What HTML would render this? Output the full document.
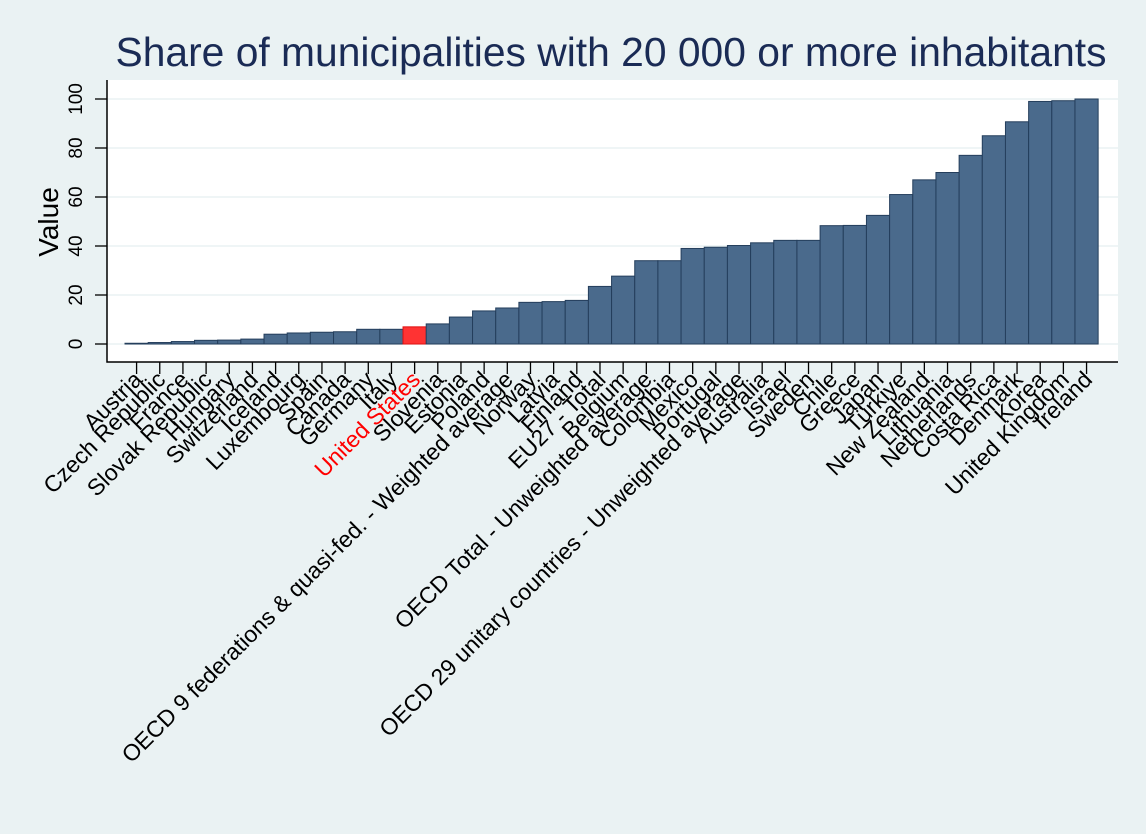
<!DOCTYPE html>
<html><head><meta charset="utf-8"><style>
body{margin:0;background:#eaf2f3;}
svg{display:block;font-family:"Liberation Sans",sans-serif;}
</style></head><body>
<svg id="c" width="1146" height="834">
<rect width="1146" height="834" fill="#eaf2f3"/>
<text x="611" y="66" text-anchor="middle" font-size="40.8" fill="#1a2b55">Share of municipalities with 20 000 or more inhabitants</text>
<rect x="107" y="80" width="1011" height="282" fill="#ffffff"/>
<g id="grid"></g><g id="bars"></g><g id="axes"></g>
</svg>
<script>
const categories=["Austria","Czech Republic","France","Slovak Republic","Hungary","Switzerland","Iceland","Luxembourg","Spain","Canada","Germany","Italy","United States","Slovenia","Estonia","Poland","OECD 9 federations & quasi-fed. - Weighted average","Norway","Latvia","Finland","EU27 - Total","Belgium","OECD Total - Unweighted average","Colombia","Mexico","Portugal","OECD 29 unitary countries - Unweighted average","Australia","Israel","Sweden","Chile","Greece","Japan","Türkiye","New Zealand","Lithuania","Netherlands","Costa Rica","Denmark","Korea","United Kingdom","Ireland"];
const values=[0.3,0.6,1,1.5,1.6,2,4,4.5,4.8,5,6,6,7,8.2,11,13.5,14.7,17,17.3,17.8,23.5,27.7,34,34,39,39.5,40.2,41.3,42.3,42.3,48.3,48.4,52.5,61,67,70,77,85,90.7,99,99.3,100];
const yTicks=[0,20,40,60,80,100];
const highlight="United States";
const NS="http://www.w3.org/2000/svg";
const x0=125,bw=23.17,yBase=344,ppu=2.45;
const X=i=>x0+i*bw, Y=v=>yBase-v*ppu;
function mk(t,a,p){const e=document.createElementNS(NS,t);for(const k in a)e.setAttribute(k,a[k]);p.appendChild(e);return e;}
const grid=document.getElementById('grid'),bars=document.getElementById('bars'),axes=document.getElementById('axes');
yTicks.forEach(v=>{
 const g=mk('line',{x1:107,x2:1118,y1:Y(v),y2:Y(v),stroke:'#eaf2f3','stroke-width':1.5},grid);
 
 
 const t=mk('line',{x1:95,x2:107,y1:Y(v),y2:Y(v),stroke:'#000','stroke-width':1.3},axes);
 
 
 const l=mk('text',{x:0,y:0,'font-size':19,'text-anchor':'middle',transform:`translate(82,${Y(v)}) rotate(-90)`},axes);
 l.textContent=v;
 
 
});
values.forEach((v,i)=>{
 const hl=categories[i]===highlight;
 const r=mk('rect',{x:X(i),y:Y(v),width:bw,height:Math.max(v*ppu,0.5),fill:hl?'#ff3333':'#4a6a8c',stroke:hl?'#e01010':'#243e5c','stroke-width':1},bars);
 
 
 const cx=X(i)+bw/2;
 const t=mk('line',{x1:cx,x2:cx,y1:362,y2:374,stroke:'#000','stroke-width':1.3},axes);
 
 
 const l=mk('text',{x:0,y:0,'font-size':23,'text-anchor':'end',fill:hl?'#ff0000':'#000',transform:`translate(${cx+7},${381}) rotate(-45)`},axes);
 l.textContent=categories[i];
 
 
});
const ax=mk('path',{d:'M107 80 V362 H1118',fill:'none',stroke:'#000','stroke-width':1.5},axes);


const yt=mk('text',{x:0,y:0,'font-size':28,'text-anchor':'middle',transform:'translate(58,222) rotate(-90)'},axes);
yt.textContent='Value';


</script>
</body></html>
